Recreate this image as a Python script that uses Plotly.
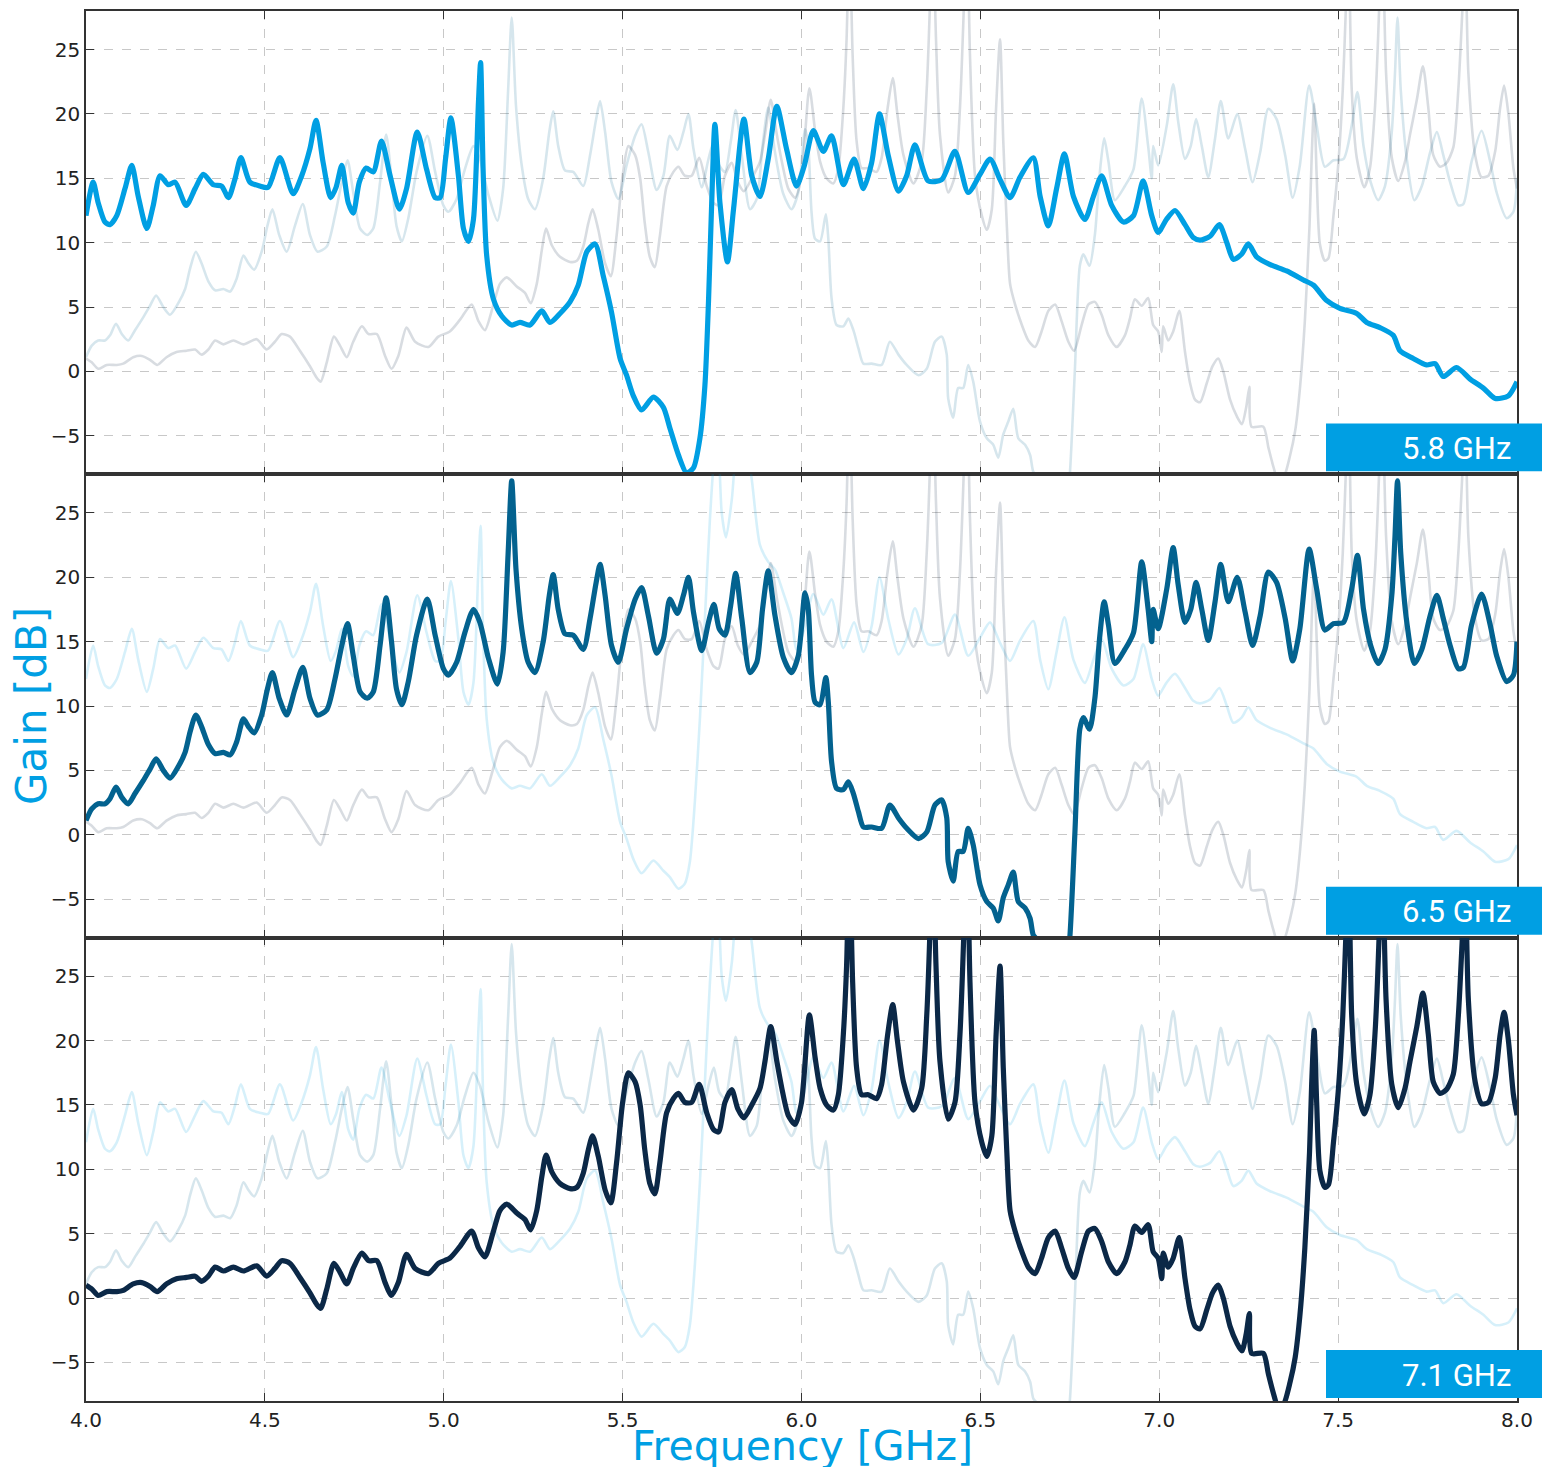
import plotly.graph_objects as go
from plotly.subplots import make_subplots

# ---------------- data ----------------
f58 = [4.000, 4.020, 4.034, 4.053, 4.067, 4.086, 4.109, 4.128, 4.146, 4.170, 4.188, 4.207, 4.230, 4.249,
       4.280, 4.305, 4.328, 4.356, 4.379, 4.398, 4.416, 4.433, 4.458, 4.486, 4.509, 4.542, 4.579, 4.603,
       4.626, 4.643, 4.663, 4.684, 4.699, 4.715, 4.733, 4.747, 4.764, 4.783, 4.803, 4.826, 4.850, 4.876,
       4.896, 4.926, 4.952, 4.976, 4.990, 5.005, 5.020, 5.041, 5.055, 5.069, 5.083, 5.097, 5.103, 5.110,
       5.120, 5.139, 5.162, 5.190, 5.213, 5.241, 5.274, 5.297, 5.325, 5.353, 5.376, 5.400, 5.423, 5.446,
       5.469, 5.493, 5.511, 5.530, 5.553, 5.586, 5.614, 5.632, 5.656, 5.679, 5.698, 5.716, 5.730, 5.740,
       5.749, 5.758, 5.772, 5.793, 5.810, 5.839, 5.861, 5.884, 5.907, 5.931, 5.958, 5.986, 6.008, 6.033,
       6.061, 6.084, 6.117, 6.147, 6.173, 6.196, 6.218, 6.243, 6.271, 6.294, 6.317, 6.354, 6.392, 6.429,
       6.466, 6.499, 6.527, 6.555, 6.583, 6.611, 6.648, 6.667, 6.690, 6.713, 6.735, 6.760, 6.792, 6.816,
       6.839, 6.867, 6.900, 6.928, 6.955, 6.979, 6.997, 7.020, 7.044, 7.072, 7.095, 7.114, 7.142, 7.168,
       7.189, 7.207, 7.230, 7.249, 7.272, 7.310, 7.356, 7.403, 7.431, 7.468, 7.505, 7.552, 7.580, 7.617,
       7.654, 7.673, 7.710, 7.747, 7.771, 7.794, 7.831, 7.869, 7.906, 7.939, 7.976, 8.000]
g58 = [12.1, 14.7, 13.1, 11.6, 11.4, 12.1, 14.2, 16.0, 13.6, 11.1, 12.9, 15.2, 14.5, 14.7,
       12.9, 14.2, 15.3, 14.5, 14.4, 13.5, 14.9, 16.6, 14.7, 14.4, 14.3, 16.6, 13.8, 15.2,
       17.3, 19.5, 16.2, 13.5, 14.3, 16.0, 13.1, 12.3, 14.7, 15.8, 15.5, 17.9, 15.2, 12.6,
       14.2, 18.6, 15.7, 13.5, 13.5, 16.5, 19.7, 15.2, 11.1, 10.1, 11.8, 20.9, 24.0, 15.7,
       9.0, 5.6, 4.3, 3.6, 3.8, 3.6, 4.7, 3.8, 4.5, 5.4, 6.7, 9.3, 9.9, 7.4,
       4.6, 1.0, -0.3, -1.9, -3.0, -2.0, -2.8, -4.4, -6.5, -7.9, -7.5, -5.2, -1.1, 5.4,
       13.1, 19.2, 13.1, 8.5, 12.6, 19.6, 15.2, 13.6, 16.5, 20.6, 17.3, 14.4, 16.0, 18.7,
       17.1, 18.3, 14.5, 16.5, 14.2, 16.2, 20.0, 16.7, 14.0, 15.2, 17.6, 14.8, 14.9, 17.1,
       13.9, 15.3, 16.5, 14.9, 13.5, 15.1, 16.6, 13.6, 11.3, 14.2, 16.9, 13.6, 11.8, 13.6,
       15.2, 12.9, 11.6, 12.1, 14.8, 12.1, 10.8, 11.8, 12.5, 11.4, 10.4, 10.2, 10.5, 11.4,
       10.0, 8.7, 9.1, 9.9, 8.9, 8.3, 7.8, 7.1, 6.7, 5.5, 4.9, 4.5, 3.8, 3.4,
       2.8, 1.6, 1.0, 0.5, 0.6, -0.4, 0.3, -0.6, -1.3, -2.1, -1.9, -0.8]

# 5.8 GHz curve as it appears in the background of the other panels (differs 5.63-5.98 GHz)
f58_bg_part = [5.632, 5.656, 5.674, 5.688, 5.702, 5.716, 5.730, 5.744, 5.755, 5.766, 5.777, 5.789,
               5.805, 5.820, 5.842, 5.861, 5.884, 5.907, 5.926, 5.949, 5.972]
g58_bg_part = [-3.3, -4.2, -3.8, -2.1, 2.6, 9.0, 16.8, 24.5, 29.0, 31.0, 25.0, 23.1,
               26.0, 30.0, 31.0, 27.6, 22.5, 21.2, 20.6, 18.8, 16.8]

f65 = [4.000, 4.016, 4.034, 4.053, 4.067, 4.084, 4.100, 4.118, 4.137, 4.160, 4.179, 4.196, 4.216, 4.235,
       4.258, 4.277, 4.291, 4.307, 4.323, 4.342, 4.361, 4.384, 4.403, 4.421, 4.440, 4.454, 4.470, 4.491,
       4.507, 4.521, 4.540, 4.561, 4.584, 4.606, 4.626, 4.647, 4.673, 4.696, 4.715, 4.731, 4.747, 4.766,
       4.786, 4.803, 4.822, 4.839, 4.854, 4.868, 4.883, 4.901, 4.924, 4.954, 4.976, 4.999, 5.013, 5.036,
       5.059, 5.083, 5.101, 5.125, 5.150, 5.166, 5.180, 5.190, 5.202, 5.218, 5.236, 5.255, 5.278, 5.295,
       5.306, 5.320, 5.339, 5.362, 5.390, 5.409, 5.426, 5.437, 5.451, 5.469, 5.488, 5.511, 5.535, 5.553,
       5.572, 5.595, 5.614, 5.632, 5.653, 5.670, 5.684, 5.698, 5.721, 5.740, 5.755, 5.770, 5.786, 5.802,
       5.816, 5.833, 5.856, 5.875, 5.891, 5.907, 5.926, 5.949, 5.972, 5.991, 6.010, 6.019, 6.028, 6.038,
       6.052, 6.068, 6.075, 6.084, 6.098, 6.117, 6.131, 6.145, 6.159, 6.173, 6.196, 6.224, 6.247, 6.271,
       6.294, 6.327, 6.350, 6.373, 6.392, 6.406, 6.410, 6.424, 6.438, 6.452, 6.466, 6.480, 6.499, 6.518,
       6.536, 6.550, 6.564, 6.578, 6.592, 6.606, 6.625, 6.639, 6.648, 6.662, 6.680, 6.700, 6.725, 6.740,
       6.750, 6.764, 6.778, 6.788, 6.805, 6.820, 6.833, 6.846, 6.858, 6.876, 6.904, 6.928, 6.951, 6.969,
       6.979, 6.983, 6.997, 7.021, 7.039, 7.053, 7.072, 7.088, 7.103, 7.119, 7.137, 7.156, 7.172, 7.193,
       7.218, 7.240, 7.261, 7.282, 7.305, 7.328, 7.352, 7.373, 7.393, 7.419, 7.440, 7.463, 7.487, 7.515,
       7.538, 7.554, 7.571, 7.591, 7.612, 7.631, 7.650, 7.659, 7.666, 7.675, 7.692, 7.713, 7.734, 7.757,
       7.776, 7.794, 7.813, 7.836, 7.850, 7.873, 7.901, 7.925, 7.943, 7.971, 7.990, 8.000]
g65 = [1.1, 2.0, 2.4, 2.4, 2.8, 3.7, 2.9, 2.4, 3.2, 4.2, 5.1, 5.9, 5.0, 4.4,
       5.3, 6.4, 8.0, 9.3, 8.4, 7.0, 6.3, 6.4, 6.2, 7.2, 9.0, 8.4, 7.9, 9.3,
       11.3, 12.6, 10.6, 9.3, 11.3, 13.0, 10.6, 9.3, 9.7, 12.1, 14.7, 16.4, 13.9, 11.1,
       10.6, 11.1, 14.7, 18.4, 15.0, 11.3, 10.1, 11.9, 15.5, 18.3, 15.5, 12.9, 12.4, 13.4,
       15.7, 17.5, 16.5, 13.7, 11.7, 14.2, 21.9, 27.5, 20.6, 16.0, 13.4, 12.6, 15.0, 18.6,
       20.2, 17.5, 15.6, 15.5, 14.4, 16.8, 19.6, 21.0, 18.6, 14.7, 13.4, 16.0, 18.3, 19.2,
       17.0, 14.1, 15.2, 18.3, 17.2, 18.6, 20.0, 17.3, 14.3, 16.5, 17.9, 16.0, 15.5, 17.8,
       20.3, 16.8, 12.6, 13.4, 17.5, 20.5, 17.0, 13.8, 12.6, 13.9, 18.8, 17.5, 12.4, 10.3,
       10.1, 12.2, 10.3, 5.7, 3.6, 3.5, 4.1, 3.2, 1.8, 0.6, 0.6, 0.5, 2.3, 1.3,
       0.5, -0.3, 0.2, 2.3, 2.7, 1.3, -2.1, -3.6, -1.3, -1.3, 0.5, -0.8, -3.9, -5.2,
       -5.7, -6.7, -4.9, -3.9, -2.9, -5.2, -5.7, -6.5, -7.8, -8.3, -11.0, -14.0, -14.0, -10.5,
       -8.0, 0.0, 8.2, 9.1, 8.2, 10.6, 15.2, 18.1, 16.3, 13.3, 14.4, 15.7, 21.2, 17.5,
       15.0, 17.5, 16.0, 19.1, 22.3, 19.4, 16.5, 17.5, 19.6, 17.5, 15.1, 18.1, 21.0, 18.1,
       20.0, 17.3, 14.7, 17.0, 20.4, 19.6, 16.8, 13.5, 16.0, 22.2, 19.1, 15.9, 16.4, 16.5,
       19.1, 21.7, 17.5, 14.7, 13.3, 14.4, 18.6, 23.2, 27.5, 21.9, 16.5, 13.3, 14.4, 17.0,
       18.6, 16.8, 14.7, 12.9, 13.0, 16.3, 18.7, 16.3, 13.9, 11.9, 12.4, 15.0]

f71 = [4.000, 4.016, 4.034, 4.058, 4.086, 4.104, 4.132, 4.156, 4.179, 4.199, 4.225, 4.253, 4.281, 4.305,
       4.323, 4.342, 4.361, 4.384, 4.412, 4.440, 4.477, 4.505, 4.528, 4.547, 4.570, 4.598, 4.626, 4.645,
       4.656, 4.673, 4.693, 4.710, 4.729, 4.747, 4.771, 4.790, 4.813, 4.836, 4.854, 4.873, 4.896, 4.920,
       4.957, 4.985, 5.017, 5.045, 5.078, 5.097, 5.115, 5.139, 5.157, 5.176, 5.204, 5.227, 5.243, 5.260,
       5.274, 5.286, 5.302, 5.325, 5.353, 5.372, 5.390, 5.404, 5.416, 5.432, 5.451, 5.467, 5.483, 5.500,
       5.516, 5.535, 5.549, 5.562, 5.576, 5.590, 5.604, 5.623, 5.642, 5.656, 5.674, 5.693, 5.714, 5.735,
       5.754, 5.768, 5.786, 5.805, 5.822, 5.839, 5.861, 5.884, 5.898, 5.914, 5.931, 5.945, 5.963, 5.982,
       6.000, 6.022, 6.038, 6.052, 6.070, 6.089, 6.103, 6.117, 6.126, 6.134, 6.143, 6.154, 6.168, 6.187,
       6.210, 6.224, 6.240, 6.255, 6.268, 6.285, 6.313, 6.336, 6.350, 6.359, 6.366, 6.376, 6.387, 6.410,
       6.429, 6.443, 6.454, 6.462, 6.471, 6.485, 6.504, 6.518, 6.532, 6.544, 6.555, 6.564, 6.574, 6.583,
       6.597, 6.616, 6.634, 6.653, 6.671, 6.690, 6.709, 6.727, 6.746, 6.762, 6.783, 6.802, 6.820, 6.839,
       6.858, 6.881, 6.904, 6.918, 6.932, 6.951, 6.969, 6.983, 6.997, 7.007, 7.011, 7.025, 7.039, 7.056,
       7.072, 7.086, 7.100, 7.114, 7.133, 7.149, 7.165, 7.179, 7.198, 7.217, 7.231, 7.243, 7.252, 7.258,
       7.291, 7.305, 7.319, 7.333, 7.347, 7.366, 7.380, 7.393, 7.407, 7.420, 7.426, 7.433, 7.440, 7.449,
       7.463, 7.473, 7.487, 7.501, 7.513, 7.522, 7.529, 7.538, 7.552, 7.573, 7.589, 7.603, 7.615, 7.622,
       7.634, 7.650, 7.668, 7.687, 7.701, 7.720, 7.737, 7.752, 7.766, 7.785, 7.803, 7.822, 7.836, 7.848,
       7.855, 7.864, 7.883, 7.901, 7.920, 7.939, 7.953, 7.964, 7.976, 7.990, 8.000]
g71 = [1.0, 0.7, 0.2, 0.5, 0.5, 0.6, 1.1, 1.2, 0.9, 0.5, 1.1, 1.5, 1.6, 1.7,
       1.3, 1.7, 2.4, 2.1, 2.4, 2.1, 2.5, 1.7, 2.3, 2.9, 2.7, 1.6, 0.4, -0.5,
       -0.8, 0.7, 2.7, 2.0, 1.1, 2.3, 3.5, 2.9, 2.9, 1.2, 0.2, 1.2, 3.4, 2.3,
       1.9, 2.7, 3.1, 4.0, 5.2, 3.9, 3.2, 5.2, 6.8, 7.3, 6.6, 6.1, 5.3, 6.8,
       9.4, 11.1, 9.8, 8.9, 8.5, 8.6, 9.7, 11.5, 12.6, 11.0, 8.4, 7.4, 10.5, 15.2,
       17.5, 16.8, 15.0, 11.5, 8.9, 8.1, 10.5, 14.4, 15.5, 15.9, 15.2, 15.2, 16.6, 14.4,
       13.1, 12.9, 15.2, 16.2, 14.7, 14.0, 15.0, 16.3, 18.4, 21.1, 18.4, 16.3, 14.2, 13.5,
       15.2, 22.0, 18.7, 16.3, 15.0, 14.6, 15.8, 20.5, 25.8, 34.0, 24.5, 17.9, 15.8, 15.8,
       15.5, 16.6, 20.3, 22.8, 20.0, 16.8, 14.6, 16.3, 21.9, 28.5, 36.0, 25.8, 18.4, 13.9,
       15.2, 20.5, 28.5, 36.0, 24.5, 15.2, 12.1, 11.0, 12.6, 20.5, 25.8, 17.9, 11.3, 6.8,
       5.2, 3.6, 2.4, 1.9, 3.1, 4.7, 5.2, 3.9, 2.3, 1.6, 3.6, 5.2, 5.4, 4.4,
       2.8, 1.9, 2.8, 4.1, 5.6, 5.1, 5.7, 3.6, 3.1, 1.5, 3.5, 2.4, 3.1, 4.7,
       1.5, -0.9, -2.2, -2.4, -0.9, 0.4, 1.0, 0.0, -2.2, -3.5, -4.1, -2.8, -1.2, -4.3,
       -4.3, -5.9, -7.4, -8.5, -8.3, -6.5, -4.6, -1.4, 3.9, 11.3, 16.6, 20.8, 15.2, 9.9,
       8.6, 8.8, 12.1, 16.3, 21.9, 28.5, 34.0, 21.9, 16.6, 14.3, 15.8, 20.5, 28.5, 36.0,
       23.2, 16.6, 14.8, 16.3, 18.4, 21.1, 23.7, 20.5, 16.8, 15.9, 16.2, 17.4, 21.9, 28.5,
       33.0, 23.2, 16.8, 15.1, 15.2, 17.1, 20.5, 22.2, 20.0, 15.8, 14.2]

labels = ["5.8 GHz", "6.5 GHz", "7.1 GHz"]
y_ticks = [-5, 0, 5, 10, 15, 20, 25]
x_ticks = [4.0, 4.5, 5.0, 5.5, 6.0, 6.5, 7.0, 7.5, 8.0]

# background version of the 5.8 GHz curve
lo, hi = f58_bg_part[0], f58_bg_part[-1]
pre = [(f, g) for f, g in zip(f58, g58) if f < lo - 0.005]
post = [(f, g) for f, g in zip(f58, g58) if f > hi + 0.01]
f58_bg = [p[0] for p in pre] + f58_bg_part + [p[0] for p in post]
g58_bg = [p[1] for p in pre] + g58_bg_part + [p[1] for p in post]

# ---------------- styling ----------------
C58 = "#009FE3"
C65 = "#03628F"
C71 = "#0B2847"
FADE = {"58": "rgba(0,159,227,0.16)", "65": "rgba(3,98,143,0.16)", "71": "rgba(11,40,71,0.16)"}
BLUE = "#009FE3"

series = {
    "58": (f58, g58, C58),
    "65": (f65, g65, C65),
    "71": (f71, g71, C71),
}
bg_data = {"58": (f58_bg, g58_bg), "65": (f65, g65), "71": (f71, g71)}
order = ["58", "65", "71"]

fig = make_subplots(rows=3, cols=1, shared_xaxes=True, vertical_spacing=0)

for r, key in enumerate(order, start=1):
    for other in order:
        if other == key:
            continue
        fx, gy = bg_data[other]
        fig.add_trace(go.Scatter(x=fx, y=gy, mode="lines",
                                 line=dict(color=FADE[other], width=2.6, shape="spline", smoothing=0.7),
                                 hoverinfo="skip", showlegend=False), row=r, col=1)
    fx, gy, col = series[key]
    fig.add_trace(go.Scatter(x=fx, y=gy, mode="lines",
                             line=dict(color=col, width=5.2, shape="spline", smoothing=0.7),
                             showlegend=False), row=r, col=1)

axis_common = dict(showline=True, linecolor="#333333", linewidth=1.5,
                   ticks="inside", ticklen=8, tickwidth=1.2, tickcolor="#333333",
                   showgrid=True, gridcolor="#c8c8c8", griddash="dash", gridwidth=1,
                   zeroline=False,
                   tickfont=dict(family="DejaVu Sans", size=20, color="#222222"))

for r in range(1, 4):
    fig.update_xaxes(range=[4.0, 8.0], tickvals=x_ticks, ticktext=[f"{v:.1f}" for v in x_ticks],
                     mirror="ticks", row=r, col=1, **axis_common)
    fig.update_yaxes(range=[-8, 28], tickvals=y_ticks, mirror=True, row=r, col=1, **axis_common)

# the page margin is removed in the html (see post_script), so screen px == figure px
W, H = 1542, 1467
L, R, T, B = 86, 25, 9, 66
pw, ph = W - L - R, H - T - B

def px_x(px):
    return (px - L) / pw

def px_y(py):
    return (H - B - py) / ph

shapes = []
annotations = []
box_tops = [422, 886, 1350]
for lab, top in zip(labels, box_tops):
    shapes.append(dict(type="rect", xref="paper", yref="paper",
                       x0=px_x(1326), x1=px_x(1542), y0=px_y(top + 48), y1=px_y(top),
                       fillcolor=BLUE, line=dict(width=0), layer="above"))
    annotations.append(dict(xref="paper", yref="paper", x=px_x(1513), y=px_y(top + 25),
                            text=lab, showarrow=False, xanchor="right", yanchor="middle",
                            font=dict(family="Roboto", size=31, color="white")))

annotations.append(dict(xref="paper", yref="paper", x=px_x(31), y=px_y(705), text="Gain [dB]",
                        textangle=-90, showarrow=False, xanchor="center", yanchor="middle",
                        font=dict(family="DejaVu Sans", size=42, color=BLUE)))
annotations.append(dict(xref="paper", yref="paper", x=px_x(802), y=px_y(1446), text="Frequency [GHz]",
                        showarrow=False, xanchor="center", yanchor="middle",
                        font=dict(family="DejaVu Sans", size=41, color=BLUE)))

fig.update_layout(width=W, height=H, margin=dict(l=L, r=R, t=T, b=B),
                  plot_bgcolor="white", paper_bgcolor="white",
                  shapes=shapes, annotations=annotations, showlegend=False)

fig.write_html("out.html", config={"displayModeBar": False},
               post_script="document.body.style.margin='0';document.body.style.overflow='hidden';")
